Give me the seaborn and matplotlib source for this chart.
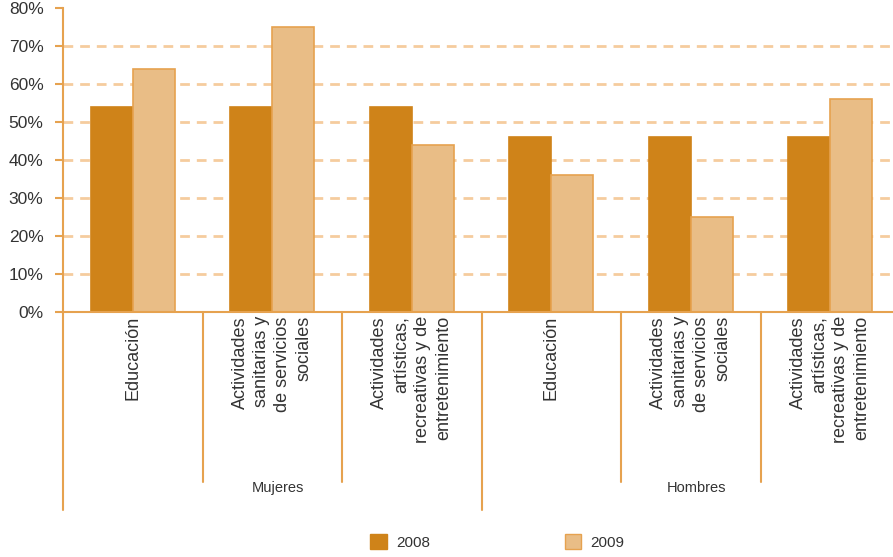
import pandas as pd
import seaborn as sns
import matplotlib.pyplot as plt
import matplotlib.patches as mpatches
import matplotlib.transforms as mtransforms

# data
categorias = ['Educación',
              'Actividades\nsanitarias y\nde servicios\nsociales',
              'Actividades\nartísticas,\nrecreativas y de\nentretenimiento']
grupos = ['Mujeres', 'Hombres']
valores_2008 = [54, 54, 54, 46, 46, 46]
valores_2009 = [64, 75, 44, 36, 25, 56]
ytick_labels = ['0%', '10%', '20%', '30%', '40%', '50%', '60%', '70%', '80%']

c2008 = '#cf8319'
c2009 = '#e9bd86'
linea = '#e6a24f'
texto = '#333333'

etiquetas = [f'{g}-{i}' for g in grupos for i in range(len(categorias))]
df = pd.DataFrame({
    'cat': etiquetas * 2,
    'valor': valores_2008 + valores_2009,
    'año': ['2008'] * 6 + ['2009'] * 6,
})

sns.set_theme(style='white')
plt.rcParams['font.family'] = ['Liberation Sans', 'DejaVu Sans']

fig = plt.figure(figsize=(8.93, 5.57), dpi=100)
ax = fig.add_axes([63 / 893, 1 - 312 / 557, 830 / 893, 304 / 557])

sns.barplot(data=df, x='cat', y='valor', hue='año', order=etiquetas,
            palette={'2008': c2008, '2009': c2009}, width=0.6,
            edgecolor=linea, linewidth=1.2, saturation=1, legend=False, ax=ax)
# keep the 2008 bars borderless-looking
for p in ax.patches[:6]:
    p.set_edgecolor(c2008)

ax.set_xlim(-0.5, -0.5 + 830 / 139.5)
ax.set_ylim(0, 80)
ax.set_xlabel('')
ax.set_ylabel('')

for v in range(10, 80, 10):
    ax.axhline(v, color='#f5cc9e', lw=2, ls=(0, (3.5, 2.5)), zorder=0)

ax.set_yticks(range(0, 90, 10))
ax.set_yticklabels(ytick_labels, fontsize=12.5, color=texto)
ax.tick_params(axis='y', which='both', left=True, length=6, width=1.5,
               color=linea, pad=8)

ax.set_xticks(range(6))
ax.set_xticklabels(categorias * 2, rotation=90, fontsize=13, color=texto,
                   linespacing=1.33, multialignment='right', va='top')
ax.tick_params(axis='x', bottom=False, length=0, pad=3)

for s in ['top', 'right']:
    ax.spines[s].set_visible(False)
ax.spines['left'].set_color(linea)
ax.spines['left'].set_linewidth(1.5)
ax.spines['bottom'].set_color(linea)
ax.spines['bottom'].set_linewidth(1.5)

# separators below the axis
trans = mtransforms.blended_transform_factory(ax.transData, ax.transAxes)
bajo_corto = -(482 - 312) / 304
bajo_largo = -(510 - 312) / 304
for x in [0.5, 1.5, 3.5, 4.5]:
    ax.plot([x, x], [0, bajo_corto], color=linea, lw=1.5, transform=trans,
            clip_on=False)
for x in [-0.5, 2.5]:
    ax.plot([x, x], [0, bajo_largo], color=linea, lw=1.5, transform=trans,
            clip_on=False)

for i, g in enumerate(grupos):
    ax.text(i * 3 + 1.04, -(488 - 312) / 304, g, transform=trans, ha='center',
            va='center', fontsize=10.5, color=texto)

handles = [mpatches.Patch(facecolor=c2008, edgecolor=c2008, label='2008'),
           mpatches.Patch(facecolor=c2009, edgecolor=linea, label='2009')]
fig.legend(handles=handles, loc='lower center', bbox_to_anchor=(0.557, -0.012),
           ncol=2, frameon=False, handlelength=1.1, handleheight=1.1,
           handletextpad=0.6, columnspacing=8.8, fontsize=11,
           labelcolor=texto)

fig.savefig('out.png', dpi=100)
